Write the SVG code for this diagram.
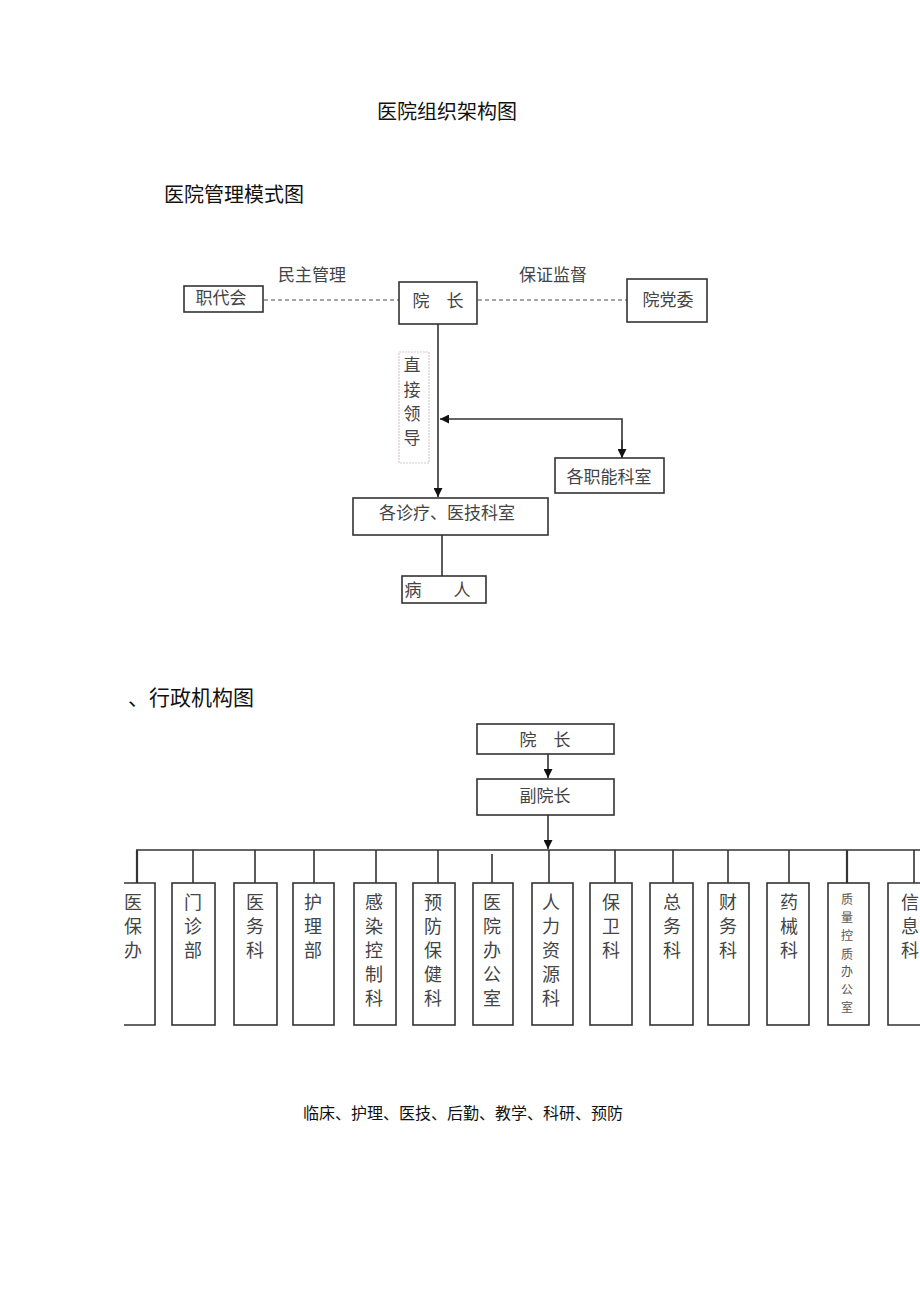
<svg xmlns="http://www.w3.org/2000/svg" width="920" height="1303" viewBox="0 0 920 1303">
<defs>
<style>
.h{font-family:"Noto Sans CJK SC","Liberation Sans",sans-serif;fill:#111;}
.t{font-family:"Liberation Serif","Noto Sans CJK SC",serif;fill:#444;font-size:17px;text-anchor:middle;}
.v{font-family:"Liberation Serif","Noto Sans CJK SC",serif;fill:#444;font-size:18px;text-anchor:middle;}
.s{font-family:"Liberation Serif","Noto Sans CJK SC",serif;fill:#555;font-size:12px;text-anchor:middle;}
.b{fill:#fff;stroke:#333;stroke-width:1.6;}
.ln{fill:none;stroke:#333;stroke-width:1.6;}
.dash{fill:none;stroke:#888;stroke-width:1.6;stroke-dasharray:4 3;}
</style>
<marker id="ah" viewBox="0 0 10 10" refX="10" refY="5" markerWidth="9" markerHeight="9" markerUnits="userSpaceOnUse" orient="auto">
<path d="M0,0 L10,5 L0,10 z" fill="#111"/>
</marker>
<clipPath id="c1"><rect x="124" y="880" width="40" height="150"/></clipPath>
</defs>
<rect width="920" height="1303" fill="#fff"/>

<text class="h" x="447" y="119" font-size="20" text-anchor="middle">医院组织架构图</text>
<text class="h" x="164" y="202" font-size="20">医院管理模式图</text>
<text class="h" x="128" y="705" font-size="21">、行政机构图</text>
<text class="h" x="463" y="1119" font-size="16" text-anchor="middle">临床、护理、医技、后勤、教学、科研、预防</text>

<text class="t" x="312" y="281">民主管理</text>
<text class="t" x="553" y="281">保证监督</text>

<g id="connectors">
<line class="dash" x1="264" y1="300" x2="399" y2="300"/>
<line class="dash" x1="478" y1="300" x2="627" y2="300"/>
<line class="ln" x1="438" y1="324" x2="438" y2="497" marker-end="url(#ah)"/>
<polyline class="ln" points="622,461 622,419 440,419" marker-end="url(#ah)"/>
<line class="ln" x1="622" y1="440" x2="622" y2="458" marker-end="url(#ah)"/>
<line class="ln" x1="442" y1="535" x2="442" y2="576" stroke-width="2"/>
<line class="ln" x1="548" y1="754" x2="548" y2="778" marker-end="url(#ah)"/>
<line class="ln" x1="548" y1="815" x2="548" y2="849" marker-end="url(#ah)"/>
<line class="ln" x1="136" y1="850" x2="920" y2="850"/>
<g class="ln">
<line x1="137" y1="850" x2="137" y2="883" stroke-width="2.2"/>
<line x1="193" y1="850" x2="193" y2="883"/>
<line x1="255" y1="850" x2="255" y2="883"/>
<line x1="314" y1="850" x2="314" y2="883"/>
<line x1="376" y1="850" x2="376" y2="883"/>
<line x1="438" y1="850" x2="438" y2="883"/>
<line x1="492" y1="854" x2="492" y2="883"/>
<line x1="549" y1="850" x2="549" y2="883"/>
<line x1="615" y1="850" x2="615" y2="883"/>
<line x1="673" y1="850" x2="673" y2="883"/>
<line x1="728" y1="850" x2="728" y2="883"/>
<line x1="789" y1="850" x2="789" y2="883"/>
<line x1="847" y1="850" x2="847" y2="883" stroke-width="2.2"/>
<line x1="914" y1="850" x2="914" y2="883"/>
</g>
</g>

<g id="zhidaihui"><rect class="b" x="184" y="286" width="79" height="26"/><text class="t" x="221" y="304">职代会</text></g>
<g id="yuanzhang1"><rect class="b" x="399" y="282" width="78" height="42"/><text class="t" x="438" y="307" fill="#666">院　长</text></g>
<g id="dangwei"><rect class="b" x="627" y="279" width="80" height="43" stroke-width="2"/><text class="t" x="668" y="306">院党委</text></g>
<g id="zhijie">
<rect x="399" y="352" width="30" height="111" fill="none" stroke="#d8c8cc" stroke-width="1.2" stroke-dasharray="2 1"/>
<text class="t" x="412" y="371">直</text><text class="t" x="412" y="396">接</text><text class="t" x="412" y="420">领</text><text class="t" x="412" y="444">导</text>
</g>
<g id="zhineng"><rect class="b" x="555" y="458" width="109" height="35" stroke-width="2"/><text class="t" x="609" y="483">各职能科室</text></g>
<g id="zhenliao"><rect class="b" x="353" y="498" width="195" height="37"/><text class="t" x="447" y="519">各诊疗、医技科室</text></g>
<g id="bingren"><rect class="b" x="402" y="576" width="84" height="27" stroke-width="2"/><text class="t" x="413" y="596">病</text><text class="t" x="462" y="596">人</text></g>

<g id="yuanzhang2"><rect class="b" x="477" y="724" width="137" height="30"/><text class="t" x="545" y="746">院　长</text></g>
<g id="fuyuanzhang"><rect class="b" x="477" y="779" width="137" height="36"/><text class="t" x="545" y="802">副院长</text></g>

<g id="d1" clip-path="url(#c1)"><path class="ln" d="M110,883 H155 V1025 H110"/><text class="v" x="133" y="909">医</text><text class="v" x="133" y="933">保</text><text class="v" x="133" y="957">办</text></g>
<g id="d2"><rect class="b" x="172" y="883" width="43" height="142"/><text class="v" x="193" y="909">门</text><text class="v" x="193" y="933">诊</text><text class="v" x="193" y="957">部</text></g>
<g id="d3"><rect class="b" x="234" y="883" width="43" height="142"/><text class="v" x="255" y="909">医</text><text class="v" x="255" y="933">务</text><text class="v" x="255" y="957">科</text></g>
<g id="d4"><rect class="b" x="293" y="883" width="41" height="142"/><text class="v" x="313" y="909">护</text><text class="v" x="313" y="933">理</text><text class="v" x="313" y="957">部</text></g>
<g id="d5"><rect class="b" x="354" y="883" width="42" height="142"/><text class="v" x="374" y="909">感</text><text class="v" x="374" y="933">染</text><text class="v" x="374" y="957">控</text><text class="v" x="374" y="981">制</text><text class="v" x="374" y="1005">科</text></g>
<g id="d6"><rect class="b" x="413" y="883" width="42" height="142"/><text class="v" x="433" y="909">预</text><text class="v" x="433" y="933">防</text><text class="v" x="433" y="957">保</text><text class="v" x="433" y="981">健</text><text class="v" x="433" y="1005">科</text></g>
<g id="d7"><rect class="b" x="473" y="883" width="40" height="142"/><text class="v" x="492" y="909">医</text><text class="v" x="492" y="933">院</text><text class="v" x="492" y="957">办</text><text class="v" x="492" y="981">公</text><text class="v" x="492" y="1005">室</text></g>
<g id="d8"><rect class="b" x="532" y="883" width="41" height="142"/><text class="v" x="551" y="909">人</text><text class="v" x="551" y="933">力</text><text class="v" x="551" y="957">资</text><text class="v" x="551" y="981">源</text><text class="v" x="551" y="1005">科</text></g>
<g id="d9"><rect class="b" x="590" y="883" width="42" height="142"/><text class="v" x="611" y="909">保</text><text class="v" x="611" y="933">卫</text><text class="v" x="611" y="957">科</text></g>
<g id="d10"><rect class="b" x="650" y="883" width="43" height="142" stroke-width="2"/><text class="v" x="672" y="909">总</text><text class="v" x="672" y="933">务</text><text class="v" x="672" y="957">科</text></g>
<g id="d11"><rect class="b" x="708" y="883" width="41" height="142"/><text class="v" x="728" y="909">财</text><text class="v" x="728" y="933">务</text><text class="v" x="728" y="957">科</text></g>
<g id="d12"><rect class="b" x="767" y="883" width="42" height="142"/><text class="v" x="789" y="909">药</text><text class="v" x="789" y="933">械</text><text class="v" x="789" y="957">科</text></g>
<g id="d13"><rect class="b" x="828" y="883" width="41" height="142"/><text class="s" x="847" y="904">质</text><text class="s" x="847" y="922">量</text><text class="s" x="847" y="940">控</text><text class="s" x="847" y="959">质</text><text class="s" x="847" y="976">办</text><text class="s" x="847" y="994">公</text><text class="s" x="847" y="1012">室</text></g>
<g id="d14"><path class="ln" d="M930,883 H888 V1025 H930" stroke-width="2"/><text class="v" x="910" y="909">信</text><text class="v" x="910" y="933">息</text><text class="v" x="910" y="957">科</text></g>
</svg>
